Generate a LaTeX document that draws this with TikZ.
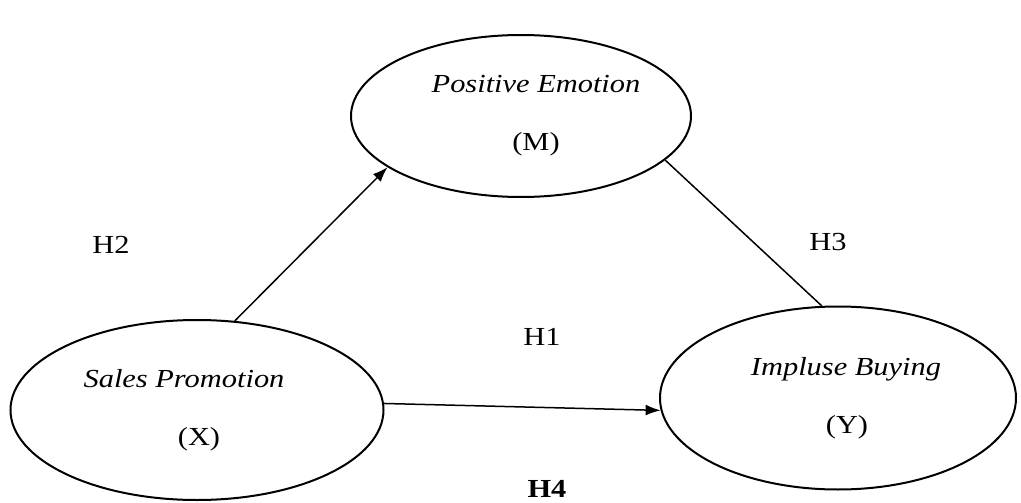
\documentclass[tikz,border=0pt]{standalone}
\usepackage{fontspec}
\usepackage{graphicx}
\setmainfont{Liberation Serif}
\usetikzlibrary{positioning, arrows.meta, shapes.geometric}
\newcommand{\Wide}[1]{\scalebox{1.17}[1]{#1}}
\tikzset{
    construct/.style={draw, ellipse, line width=2pt, inner sep=0pt, align=center,
      font=\fontsize{26}{58}\selectfont},
    hyp/.style={font=\fontsize{26}{30}\selectfont},
}

\begin{document}
\begin{tikzpicture}[x=1pt, y=-1pt]
    \tikzset{
      link/.style={line width=1.5pt},
      >={Latex[length=15pt, width=11pt]}
    }
    \useasboundingbox (0,0) rectangle (1021,503);

    \node[construct, minimum width=340pt, minimum height=162pt] (emo) at (521,116)
      {\hspace*{30pt}\Wide{\textit{Positive Emotion}}\\\hspace*{30pt}\Wide{(M)}};
    \node[construct, minimum width=373pt, minimum height=180pt] (promo) at (197,410)
      {\Wide{\textit{Sales Promotion}}\hspace*{26pt}\\\hspace*{4pt}\Wide{(X)}};
    \node[construct, minimum width=356pt, minimum height=183pt] (buy) at (838,398)
      {\hspace*{16pt}\Wide{\textit{Impluse Buying}}\\\hspace*{18pt}\Wide{(Y)}};

    \node[hyp] (h2) at (111,245) {\Wide{H2}};
    \node[hyp] (h3) at (828,242) {\Wide{H3}};
    \node[hyp] (h1) at (542,337) {\Wide{H1}};
    \node[hyp] (h4) at (547,489) {\Wide{\textbf{H4}}};

    \draw[link, ->] (promo.67) -- (emo.201);
    \draw[link] (emo.-17) -- (buy.100);
    \draw[link, ->] (promo.2) -- (buy.184);
\end{tikzpicture}
\end{document}
